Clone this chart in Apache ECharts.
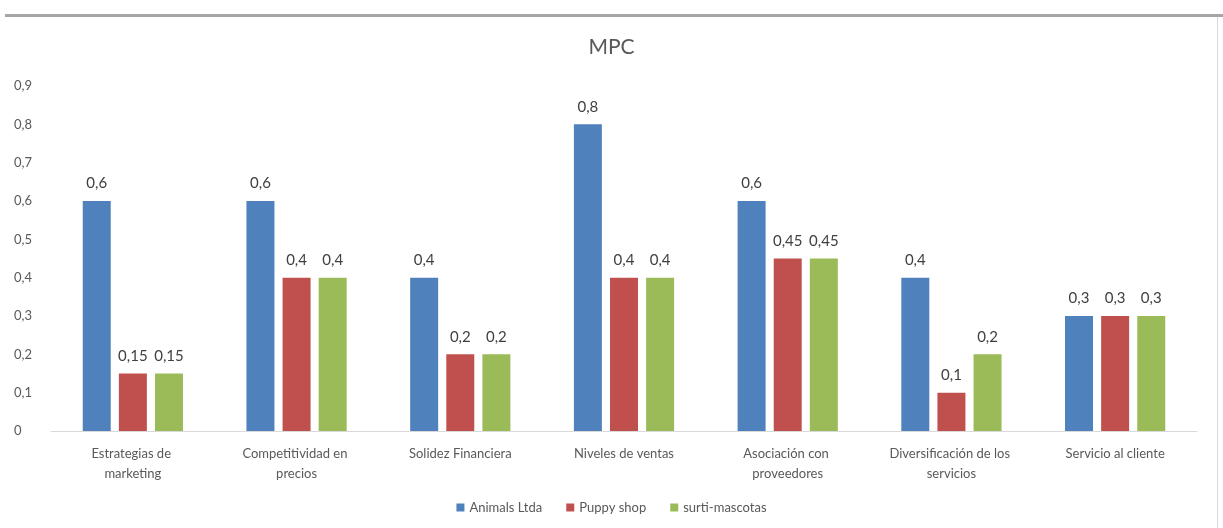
<!DOCTYPE html>
<html>
<head>
<meta charset="utf-8">
<script src="https://cdn.jsdelivr.net/npm/echarts@6/dist/echarts.min.js"></script>
<style>
  html, body { margin: 0; padding: 0; background: #ffffff; }
  #chart { width: 1223px; height: 528px; }
</style>
</head>
<body>
<div id="chart"></div>
<script>
// Categories and values per company
const categories = [
  'Estrategias de marketing',
  'Competitividad en precios',
  'Solidez Financiera',
  'Niveles de ventas',
  'Asociación con proveedores',
  'Diversificación de los servicios',
  'Servicio al cliente'
];
const animalsLtda = [0.6, 0.6, 0.4, 0.8, 0.6, 0.4, 0.3];
const puppyShop = [0.15, 0.4, 0.2, 0.4, 0.45, 0.1, 0.3];
const surtiMascotas = [0.15, 0.4, 0.2, 0.4, 0.45, 0.2, 0.3];
const seriesNames = ['Animals Ltda', 'Puppy shop', 'surti-mascotas'];
const colors = ['#4f81bd', '#c0504d', '#9bbb59'];

const FONT = 'Lato, "Open Sans", sans-serif';
const comma = v => String(v).replace('.', ',');

function barSeries(name, data, color) {
  return {
    name: name,
    type: 'bar',
    data: data,
    barWidth: 28,
    barGap: '29%',
    itemStyle: { color: color },
    label: {
      show: true,
      position: 'top',
      distance: 10,
      color: '#404040',
      fontFamily: FONT,
      fontSize: 15,
      formatter: p => comma(p.value)
    }
  };
}

const chart = echarts.init(document.getElementById('chart'), null, { renderer: 'canvas' });
chart.setOption({
  animation: false,
  backgroundColor: '#ffffff',
  title: {
    text: 'MPC',
    left: 'center',
    top: 32,
    textStyle: { color: '#595959', fontFamily: FONT, fontSize: 21, fontWeight: 'normal' }
  },
  legend: {
    bottom: 9,
    left: 'center',
    itemWidth: 8,
    itemHeight: 8,
    itemGap: 24,
    icon: 'rect',
    textStyle: { color: '#595959', fontFamily: FONT, fontSize: 13 },
    data: seriesNames
  },
  grid: { left: 51, right: 26, top: 86, bottom: 97, containLabel: false },
  xAxis: {
    type: 'category',
    data: categories,
    axisLine: { lineStyle: { color: '#d9d9d9', width: 1 } },
    axisTick: { show: false },
    axisLabel: {
      color: '#595959',
      fontFamily: FONT,
      fontSize: 13,
      margin: 13,
      lineHeight: 20,
      width: 135,
      overflow: 'break',
      interval: 0
    }
  },
  yAxis: {
    type: 'value',
    min: 0,
    max: 0.9,
    interval: 0.1,
    axisLine: { show: false },
    axisTick: { show: false },
    splitLine: { show: false },
    axisLabel: {
      color: '#595959',
      fontFamily: FONT,
      fontSize: 13,
      align: 'left',
      margin: 37,
      formatter: v => comma(Math.round(v * 10) / 10)
    }
  },
  graphic: [
    { type: 'rect', shape: { x: 5, y: 14, width: 1218, height: 3 }, style: { fill: '#a6a6a6' }, silent: true },
    { type: 'rect', shape: { x: 1217, y: 17, width: 1, height: 511 }, style: { fill: '#d9d9d9' }, silent: true }
  ],
  series: [
    barSeries(seriesNames[0], animalsLtda, colors[0]),
    barSeries(seriesNames[1], puppyShop, colors[1]),
    barSeries(seriesNames[2], surtiMascotas, colors[2])
  ]
});
</script>
</body>
</html>
